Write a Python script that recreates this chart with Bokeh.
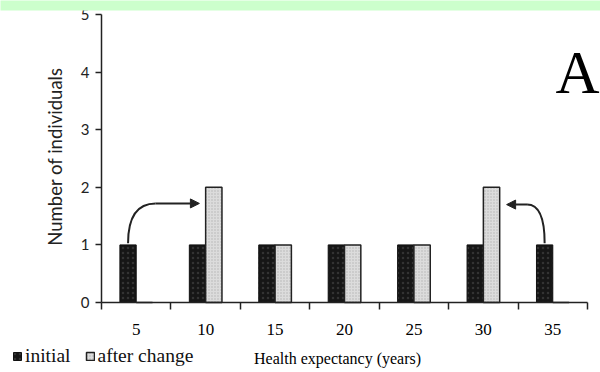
import math
from bokeh.plotting import figure
from bokeh.models import (Range1d, FixedTicker, Legend, LegendItem, Arrow, NormalHead)
from bokeh.core.properties import value
from bokeh.embed import file_html
from bokeh.resources import INLINE

# ---- data ----
categories = [5, 10, 15, 20, 25, 30, 35]
initial = [1, 1, 1, 1, 1, 1, 1]
after_change = [0, 2, 1, 1, 1, 2, 0]
y_ticks = [0, 1, 2, 3, 4, 5]
x_title = "Health expectancy (years)"
y_title = "Number of individuals"
panel_letter = "A"

n = len(categories)
centers = [i + 0.5 for i in range(n)]
bw = 0.235

# frame covers the whole canvas; axes drawn at fixed locations
XPX, YPX = 69.43, 57.6          # pixels per data unit
X0PX, Y0PX = 101, 302           # pixel position of data origin
W, H = 600, 372
x_range = Range1d(-X0PX / XPX, (W - X0PX) / XPX)
y_range = Range1d(-(H - Y0PX) / YPX, Y0PX / YPX)

p = figure(width=W, height=H, x_range=x_range, y_range=y_range,
           output_backend="svg", toolbar_location=None,
           min_border=0, min_border_left=0, min_border_right=0,
           min_border_top=0, min_border_bottom=0)
p.grid.visible = False
p.outline_line_color = None
p.background_fill_color = "white"
p.border_fill_color = "white"

r_init = p.vbar(x=[c - bw / 2 for c in centers], width=bw, top=initial, bottom=0,
                fill_color="#161616", line_color="#111111", line_width=1,
                hatch_pattern="dot", hatch_color="#333333", hatch_scale=5, hatch_weight=1)
r_after = p.vbar(x=[c + bw / 2 for c in centers], width=bw, top=after_change, bottom=0,
                 fill_color="#dcdcdc", line_color="#222222", line_width=1.5,
                 hatch_pattern="dot", hatch_color="#b4b4b4", hatch_scale=3, hatch_weight=1)

# arrows (moves from 5 -> 10 and 35 -> 30)
ax0 = centers[0] - bw / 2
ay0 = initial[0] + 0.03
p.quadratic(x0=[ax0], y0=[ay0], x1=[0.78], y1=[1.72], cx=[ax0], cy=[1.72],
            line_color="#222222", line_width=2)
p.add_layout(Arrow(end=NormalHead(size=9, fill_color="#222222", line_color="#222222"),
                   x_start=0.78, y_start=1.72, x_end=centers[1] - 0.09, y_end=1.72,
                   line_color="#222222", line_width=2))
bx0 = centers[6] - bw / 2
by0 = initial[6] + 0.03
p.quadratic(x0=[bx0], y0=[by0], x1=[6.13], y1=[1.70], cx=[bx0], cy=[1.70],
            line_color="#222222", line_width=2)
p.add_layout(Arrow(end=NormalHead(size=9, fill_color="#222222", line_color="#222222"),
                   x_start=6.13, y_start=1.70, x_end=centers[5] + bw + 0.1, y_end=1.70,
                   line_color="#222222", line_width=2))

p.text(x=[6.539], y=[3.99], text=[panel_letter], text_font=value("Liberation Serif"),
       text_font_size="61px", text_color="black", text_baseline="alphabetic", text_align="left")

# titles
p.text(x=[3.40], y=[-0.972], text=[x_title], text_font=value("Liberation Serif"),
       text_font_size="16px", text_color="black", text_baseline="middle", text_align="center")
p.text(x=[-0.67], y=[2.535], text=[y_title], text_font=value("Lato"), angle=math.pi / 2,
       text_font_size="18.5px", text_color="#222222", text_baseline="middle", text_align="center")

# x axis: labels at centers, tick marks at category boundaries
xa = p.xaxis[0]
xa.fixed_location = 0
xa.ticker = FixedTicker(ticks=centers, minor_ticks=list(range(n + 1)))
xa.major_label_overrides = {c: str(v) for c, v in zip(centers, categories)}
xa.bounds = (0, n)
xa.major_tick_out = 0
xa.major_tick_in = 0
xa.minor_tick_out = 7
xa.minor_tick_in = 0
xa.minor_tick_line_color = "#222222"
xa.minor_tick_line_width = 1.5
xa.axis_line_color = "#222222"
xa.axis_line_width = 1.5
xa.major_label_standoff = 14
xa.major_label_text_font = "Liberation Serif"
xa.major_label_text_font_size = "17px"
xa.major_label_text_color = "black"

ya = p.yaxis[0]
ya.fixed_location = 0
ya.ticker = FixedTicker(ticks=y_ticks)
ya.bounds = (0, 5)
ya.major_tick_out = 6
ya.major_tick_in = 0
ya.minor_tick_out = 0
ya.minor_tick_in = 0
ya.major_tick_line_color = "#222222"
ya.major_tick_line_width = 1.5
ya.axis_line_color = "#222222"
ya.axis_line_width = 1.5
ya.major_label_standoff = 6
ya.major_label_text_font = "Lato"
ya.major_label_text_font_size = "15px"
ya.major_label_text_color = "#222222"

# green band at top of the page
band = p.quad(left=[x_range.start], right=[x_range.end], bottom=[(Y0PX - 10) / YPX],
              top=[y_range.end], fill_color="#ccffcc", line_color=None)
band.level = "overlay"

legend = Legend(items=[LegendItem(label="initial", renderers=[r_init]),
                       LegendItem(label="after change", renderers=[r_after])],
                orientation="horizontal", location=(12, 5),
                glyph_width=10, glyph_height=10, label_text_font="Liberation Serif",
                label_text_font_size="19.5px", label_text_color="#111111",
                label_standoff=3, spacing=14,
                padding=0, margin=0, border_line_color=None, background_fill_alpha=0,
                label_height=18)
p.add_layout(legend, "center")

open("out.html", "w").write(file_html(p, INLINE))
